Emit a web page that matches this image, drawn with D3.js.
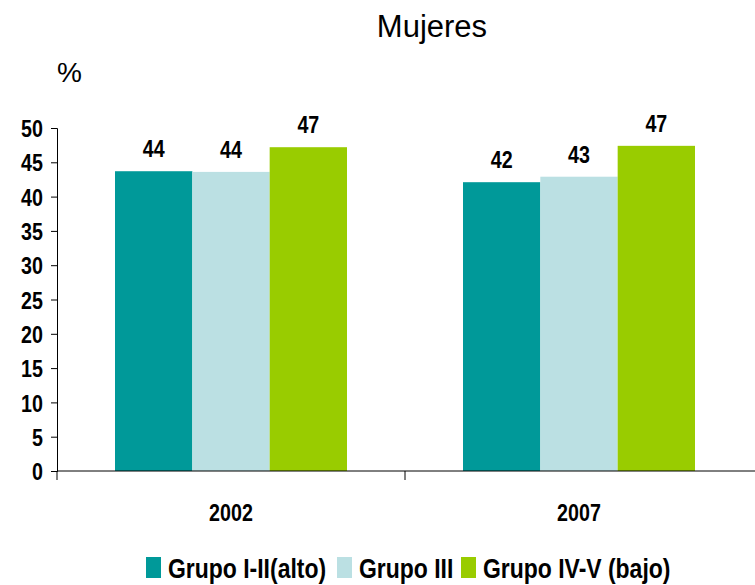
<!DOCTYPE html>
<html><head><meta charset="utf-8">
<script src="https://cdn.jsdelivr.net/npm/d3@7"></script>
<style>body{margin:0;background:#fff}svg{display:block}</style>
</head><body>
<script>
const categories = ["2002", "2007"];
const seriesNames = ["Grupo I-II(alto)", "Grupo III", "Grupo IV-V (bajo)"];
const grupoAlto = [43.7, 42.1];
const grupoIII = [43.6, 42.9];
const grupoBajo = [47.2, 47.4];
const yTicks = [0, 5, 10, 15, 20, 25, 30, 35, 40, 45, 50];
const colors = ["#009999", "#bbe0e3", "#99cc00"];
const series = [grupoAlto, grupoIII, grupoBajo];

const W = 755, H = 585;
const SX = 0.82;
const bold = "'Liberation Sans',Arial,sans-serif";
const svg = d3.select("body").append("svg").attr("width", W).attr("height", H);

const x0 = d3.scaleBand().domain(categories).range([57, 753]).paddingInner(0).paddingOuter(0);
const x1 = d3.scaleBand().domain(d3.range(seriesNames.length)).range([0, x0.bandwidth()]).paddingOuter(0.75).paddingInner(0);
const y = d3.scaleLinear().domain([0, 50]).range([471, 128]);

function narrowText(sel, x, yy, size, anchor, txt) {
  return sel.append("text")
    .attr("transform", `translate(${x},${yy}) scale(${SX},1)`)
    .attr("text-anchor", anchor).attr("font-family", bold).attr("font-weight", "bold")
    .attr("font-size", size).attr("fill", "#000").text(txt);
}

svg.append("text").attr("x", 432).attr("y", 37).attr("text-anchor", "middle")
  .attr("font-family", bold).attr("font-size", 31).text("Mujeres");
svg.append("text").attr("x", 57).attr("y", 82)
  .attr("font-family", bold).attr("font-size", 28).text("%");

const groups = svg.append("g").selectAll("g").data(categories).join("g")
  .attr("transform", d => `translate(${x0(d)},0)`);
groups.selectAll("rect").data((c, ci) => series.map((s, si) => ({si, v: s[ci]})))
  .join("rect")
  .attr("x", d => x1(d.si)).attr("width", x1.bandwidth())
  .attr("y", d => y(d.v)).attr("height", d => y(0) - y(d.v))
  .attr("fill", d => colors[d.si]);
groups.each(function(c, ci) {
  const g = d3.select(this);
  series.forEach((s, si) => {
    narrowText(g, x1(si) + x1.bandwidth() / 2, y(s[ci]) - 14, 24, "middle", d3.format(".0f")(s[ci]));
  });
});

const yAxis = svg.append("g").attr("transform", "translate(57,0)")
  .call(d3.axisLeft(y).tickValues(yTicks).tickSize(6).tickPadding(8).tickFormat(d3.format("d")));
yAxis.select(".domain").attr("stroke", "#000");
yAxis.selectAll("line").attr("stroke", "#000");
yAxis.selectAll("text").attr("font-family", bold).attr("font-weight", "bold").attr("font-size", 24)
  .attr("fill", "#000").attr("dy", "0.36em")
  .attr("x", -14 / SX).attr("transform", `scale(${SX},1)`);

const xAxis = svg.append("g").attr("transform", "translate(0,471)");
xAxis.append("line").attr("x1", 57).attr("x2", 755).attr("y1", 0).attr("y2", 0).attr("stroke", "#000");
[57, x0("2007")].forEach(px => xAxis.append("line").attr("x1", px).attr("x2", px).attr("y1", 0).attr("y2", 9).attr("stroke", "#000"));
categories.forEach(c => narrowText(xAxis, x0(c) + x0.bandwidth() / 2, 50, 24, "middle", c));

const legX = [146, 337, 461];
const leg = svg.append("g");
seriesNames.forEach((n, i) => {
  leg.append("rect").attr("x", legX[i]).attr("y", 557).attr("width", 15).attr("height", 21).attr("fill", colors[i]);
  narrowText(leg, legX[i] + 22, 578, 28, "start", n);
});
</script>
</body></html>
